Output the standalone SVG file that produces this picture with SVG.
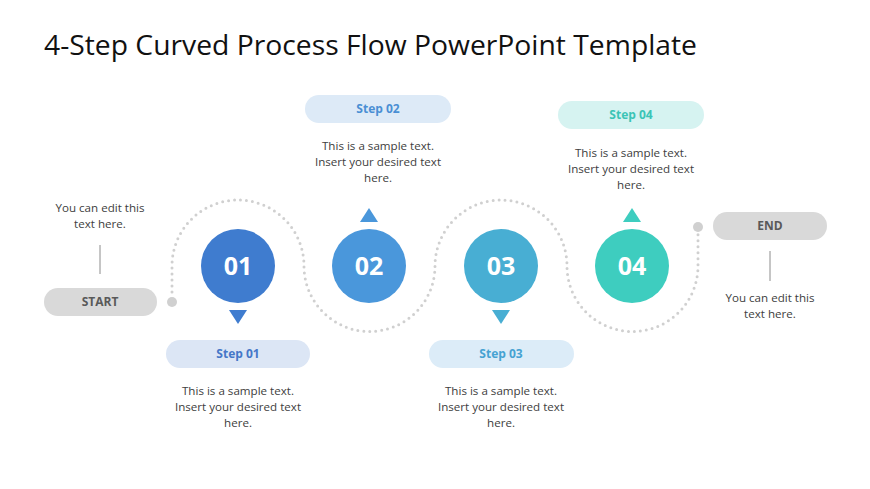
<svg xmlns="http://www.w3.org/2000/svg" width="870" height="489" viewBox="0 0 870 489">
<style>
text{font-family:"Open Sans","Noto Sans","Liberation Sans",sans-serif}
.title{font-size:27px;fill:#111}
.body{font-size:11.6px;fill:#404040;text-anchor:middle}
.pilltxt{font-size:12px;font-weight:bold;text-anchor:middle}
.num{font-size:25px;font-weight:bold;fill:#fff;text-anchor:middle}
.gray{fill:#d9d9d9}
.graytxt{font-size:12px;font-weight:bold;fill:#595959;text-anchor:middle}
.dots{fill:none;stroke:#d0d0d0;stroke-width:3;stroke-linecap:round;stroke-dasharray:0 6}
.vline{stroke:#8c8c8c;stroke-width:1}
</style>
<rect width="870" height="489" fill="#fff"/>
<text class="title" x="44" y="55" textLength="653" lengthAdjust="spacingAndGlyphs">4-Step Curved Process Flow PowerPoint Template</text>

<g id="connectors">
  <path class="dots" d="M172,292 L172,266 A66,66 0 0 1 304,266 A65,65 0 0 0 435,266 A66,66 0 0 1 567,266 A65.5,65.5 0 0 0 698,266 L698,234"/>
  <circle cx="172" cy="302" r="5" fill="#d0d0d0"/>
  <circle cx="698" cy="227" r="5" fill="#d0d0d0"/>
  <line class="vline" x1="100" y1="245" x2="100" y2="274"/>
  <line class="vline" x1="770" y1="251" x2="770" y2="281"/>
</g>

<g id="start">
  <text class="body" x="100" y="212">You can edit this</text>
  <text class="body" x="100" y="228">text here.</text>
  <rect class="gray" x="44" y="288" width="113" height="28" rx="14"/>
  <text class="graytxt" x="100" y="306">START</text>
</g>

<g id="end">
  <rect class="gray" x="713" y="212" width="114" height="28" rx="14"/>
  <text class="graytxt" x="770" y="230">END</text>
  <text class="body" x="770" y="302">You can edit this</text>
  <text class="body" x="770" y="318">text here.</text>
</g>

<g id="step01">
  <circle cx="238" cy="266" r="37" fill="#3f7ccf"/>
  <text class="num" x="238" y="275">01</text>
  <polygon points="229,310 247,310 238,324" fill="#3f7ccf"/>
  <rect x="166" y="340" width="144" height="28" rx="14" fill="#dce6f5"/>
  <text class="pilltxt" x="238" y="358" fill="#4577c8">Step 01</text>
  <text class="body" x="238" y="395">This is a sample text.</text>
  <text class="body" x="238" y="411">Insert your desired text</text>
  <text class="body" x="238" y="427">here.</text>
</g>

<g id="step02">
  <circle cx="369" cy="266" r="37" fill="#4a97db"/>
  <text class="num" x="369" y="275">02</text>
  <polygon points="360,222 378,222 369,208" fill="#4a97db"/>
  <rect x="305" y="95" width="146" height="28" rx="14" fill="#ddeaf7"/>
  <text class="pilltxt" x="378" y="113" fill="#4a8fd4">Step 02</text>
  <text class="body" x="378" y="150">This is a sample text.</text>
  <text class="body" x="378" y="166">Insert your desired text</text>
  <text class="body" x="378" y="182">here.</text>
</g>

<g id="step03">
  <circle cx="501" cy="266" r="37" fill="#48aed3"/>
  <text class="num" x="501" y="275">03</text>
  <polygon points="492,310 510,310 501,324" fill="#48aed3"/>
  <rect x="429" y="340" width="145" height="28" rx="14" fill="#dcecf8"/>
  <text class="pilltxt" x="501" y="358" fill="#46a2d2">Step 03</text>
  <text class="body" x="501" y="395">This is a sample text.</text>
  <text class="body" x="501" y="411">Insert your desired text</text>
  <text class="body" x="501" y="427">here.</text>
</g>

<g id="step04">
  <circle cx="632" cy="266" r="37" fill="#3ecdbf"/>
  <text class="num" x="632" y="275">04</text>
  <polygon points="623,222 641,222 632,208" fill="#3ecdbf"/>
  <rect x="558" y="101" width="146" height="28" rx="14" fill="#d6f3f1"/>
  <text class="pilltxt" x="631" y="119" fill="#3cc4b6">Step 04</text>
  <text class="body" x="631" y="157">This is a sample text.</text>
  <text class="body" x="631" y="173">Insert your desired text</text>
  <text class="body" x="631" y="189">here.</text>
</g>
</svg>
